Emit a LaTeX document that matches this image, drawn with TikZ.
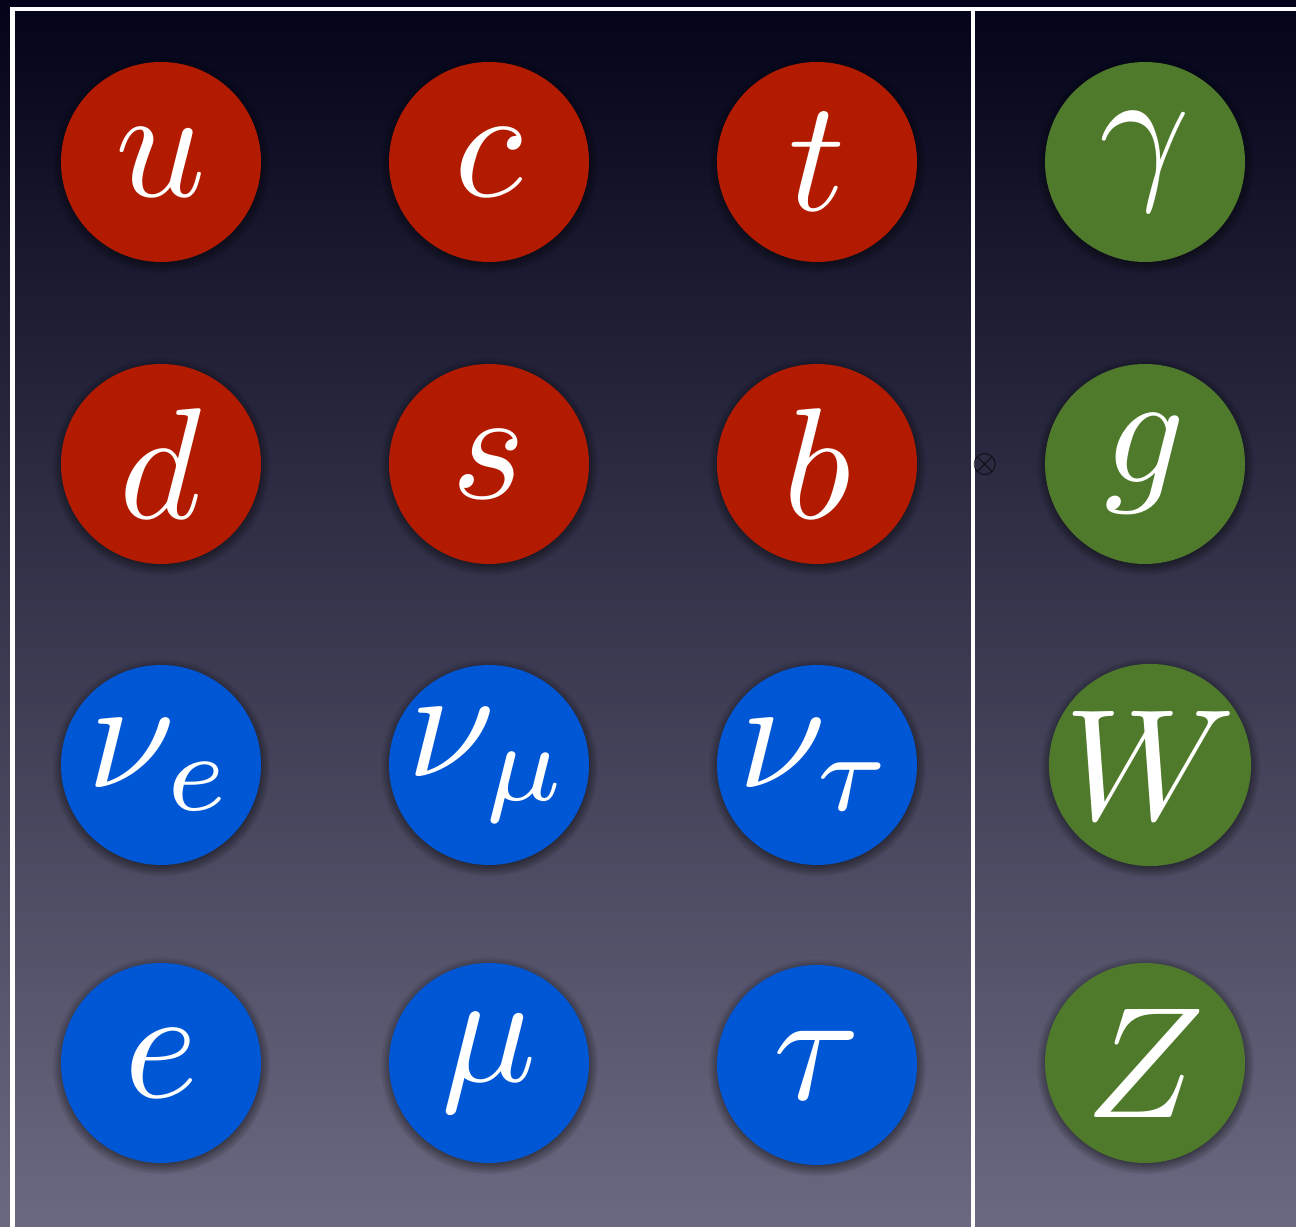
\documentclass[tikz,border=0pt]{standalone}
\usepackage{graphicx}
\usepackage{amsmath,amssymb}
\usetikzlibrary{shadows}
\definecolor{bgtop}{HTML}{03031A}
\definecolor{bgmid}{HTML}{33324F}
\definecolor{bgbot}{HTML}{6B6981}
\definecolor{cquark}{HTML}{B31B00}
\definecolor{clepton}{HTML}{0057D6}
\definecolor{cboson}{HTML}{4F7A2B}
\newcommand{\bigsym}[1]{\scalebox{4.5}{$#1$}}

\begin{document}
\begin{tikzpicture}[
  particle/.style={circle,minimum size=2cm,inner sep=0pt,text=white,
    circular drop shadow={shadow xshift=0pt,shadow yshift=-0.6pt,
      shadow scale=1.09,opacity=0.6,fill=black}},
  quark/.style={particle,fill=cquark},
  lepton/.style={particle,fill=clepton},
  boson/.style={particle,fill=cboson},
  frame/.style={white,line width=1.4pt}]
  \useasboundingbox (0,0) rectangle (12.96,12.27);
  \clip (0,0) rectangle (12.96,12.27);
  % background
  \shade[top color=bgtop,middle color=bgmid,bottom color=bgbot]
    (0,0) rectangle (12.96,12.27);
  \draw[frame] (0.125,-0.1) |- (13.1,12.18);
  \draw[frame] (9.73,-0.1) -- (9.73,12.18);
  % quarks
  \node[quark] (u) at (1.61,10.65) {\bigsym{u}};
  \node[quark] (c) at (4.89,10.65) {\bigsym{c}};
  \node[quark] (t) at (8.17,10.65) {\bigsym{t}};
  \node[quark] (d) at (1.61,7.63) {\bigsym{d}};
  \node[quark] (s) at (4.89,7.63) {\bigsym{s}};
  \node[quark] (b) at (8.17,7.63) {\bigsym{b}};
  % leptons
  \node[lepton] (nue) at (1.61,4.62) {\bigsym{\nu_e}};
  \node[lepton] (numu) at (4.89,4.62) {\bigsym{\nu_\mu}};
  \node[lepton] (nutau) at (8.17,4.62) {\bigsym{\nu_\tau}};
  \node[lepton] (e) at (1.61,1.64) {\bigsym{e}};
  \node[lepton] (mu) at (4.89,1.64) {\bigsym{\mu}};
  \node[lepton] (tau) at (8.17,1.62) {\bigsym{\tau}};
  % gauge bosons
  \node[boson] (gamma) at (11.45,10.65) {\bigsym{\gamma}};
  \node[boson] (g) at (11.45,7.63) {\bigsym{g}};
  \node[boson] (W) at (11.50,4.62) {\bigsym{W}};
  \node[boson] (Z) at (11.45,1.64) {\bigsym{Z}};
  \node[text=black,opacity=0.8,font=\small,inner sep=0pt] (x) at (9.85,7.62) {$\otimes$};
\end{tikzpicture}
\end{document}
